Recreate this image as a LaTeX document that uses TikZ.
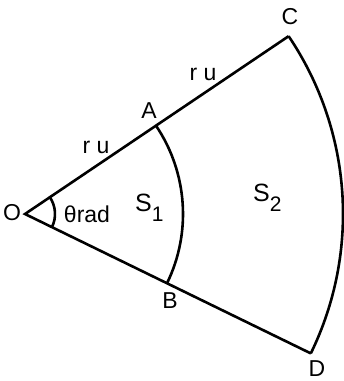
\documentclass[tikz,border=0pt]{standalone}
\usepackage{fontspec}
\setmainfont{Liberation Sans}
\usetikzlibrary{calc}
\begin{document}
\begin{tikzpicture}[x=1pt,y=1pt,
  edge/.style={line width=2.6pt,line join=miter},
  lbl/.style={inner sep=0pt,font=\fontsize{23}{23}\selectfont},
  area/.style={inner sep=0pt,anchor=base west,font=\fontsize{25}{25}\selectfont}]
\newcommand{\subnum}[1]{\raisebox{-10pt}{\fontsize{21}{21}\selectfont #1}}
\useasboundingbox (0,0) rectangle (344,381);
% centre of the sectors and the four corner points
\coordinate (O) at (25,167);
\coordinate (A) at ($(O)+(34:158pt)$);
\coordinate (C) at ($(O)+(34:318pt)$);
\coordinate (B) at ($(O)+(-26:158pt)$);
\coordinate (D) at ($(O)+(-26:318pt)$);
\coordinate (T1) at ($(O)+(34:30pt)$);
% the two rays
\draw[edge] (C) -- (O) -- (D);
% inner and outer arcs
\draw[edge] (A) arc[start angle=34,end angle=-26,radius=158pt];
\draw[edge] (C) arc[start angle=34,end angle=-26,radius=318pt];
% angle mark
\draw[edge] (T1) arc[start angle=34,end angle=-26,radius=30pt];
% labels
\node[lbl] (lO) at (12,168) {O};
\node[lbl] (lA) at (149,270) {A};
\node[lbl] (lB) at (170,80) {B};
\node[lbl] (lC) at (290,364) {C};
\node[lbl] (lD) at (317,12.5) {D};
\node[lbl] (r1) at (96,234) {r u};
\node[lbl] (r2) at (203,307) {r u};
\node[lbl] (th) at (87,167) {θrad};
\node[area] (s1) at (135,169) {S\subnum{1}};
\node[area] (s2) at (253,179) {S\subnum{2}};
\end{tikzpicture}
\end{document}
